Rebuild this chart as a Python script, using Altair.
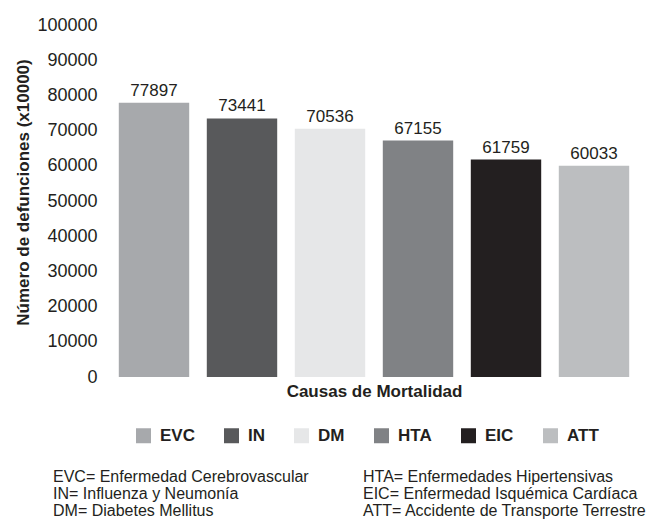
import altair as alt
import pandas as pd

causas = ["EVC", "IN", "DM", "HTA", "EIC", "ATT"]
defunciones = [77897, 73441, 70536, 67155, 61759, 60033]
colores = ["#a7a9ac", "#58595b", "#e6e7e8", "#808285", "#231f20", "#bcbec0"]
y_ticks = list(range(0, 100001, 10000))
notas_izq = ["EVC= Enfermedad Cerebrovascular", "IN= Influenza y Neumonía", "DM= Diabetes Mellitus"]
notas_der = ["HTA= Enfermedades Hipertensivas", "EIC= Enfermedad Isquémica Cardíaca",
             "ATT= Accidente de Transporte Terrestre"]

df = pd.DataFrame({"causa": causas, "valor": defunciones})
FONT = "Liberation Sans"
DARK = "#231f20"

x = alt.X("causa:N", sort=causas,
          scale=alt.Scale(paddingInner=0.2, paddingOuter=0.1),
          axis=alt.Axis(title="Causas de Mortalidad", labels=False, ticks=False, domain=False,
                        titleFont=FONT, titleFontSize=17, titleFontWeight="bold", titleColor=DARK,
                        titleY=14, titleBaseline="middle"))
y = alt.Y("valor:Q", scale=alt.Scale(domain=[0, 100000], nice=False),
          axis=alt.Axis(values=y_ticks, tickCount=11, format="d",
                        title="Número de defunciones (x10000)",
                        grid=False, ticks=False, domain=False, labelPadding=13, labelOverlap=False,
                        labelFont=FONT, labelFontSize=18, labelColor=DARK,
                        titleFont=FONT, titleFontSize=17, titleFontWeight="bold", titleColor=DARK,
                        titleX=-87, titleY=167, titleAngle=270, titleAlign="center",
                        titleBaseline="middle"))

bars = alt.Chart(df).mark_bar().encode(
    x=x, y=y,
    color=alt.Color("causa:N", sort=causas,
                    scale=alt.Scale(domain=causas, range=colores),
                    legend=alt.Legend(title=None, orient="none", legendX=25, legendY=402,
                                      direction="horizontal", symbolType="square",
                                      symbolSize=225, symbolStrokeWidth=0, symbolOpacity=1,
                                      labelFont=FONT, labelFontSize=17, labelFontWeight="bold",
                                      labelColor=DARK, labelOffset=8, columnPadding=28))
)

labels = alt.Chart(df).mark_text(dy=-12, fontSize=17, font=FONT, color=DARK).encode(
    x=x, y=y, text=alt.Text("valor:Q", format="d")
)

note_style = dict(align="left", baseline="top", lineBreak="\n", lineHeight=17,
                  fontSize=16, font=FONT, color=DARK)
left_notes = alt.Chart(pd.DataFrame({"t": ["\n".join(notas_izq)]})).mark_text(**note_style).encode(
    x=alt.value(-57), y=alt.value(444), text="t:N")
right_notes = alt.Chart(pd.DataFrame({"t": ["\n".join(notas_der)]})).mark_text(**note_style).encode(
    x=alt.value(253), y=alt.value(444), text="t:N")

chart = alt.layer(bars, labels, left_notes, right_notes).properties(
    width=528, height=352,
    autosize=alt.AutoSizeParams(type="none"),
    padding={"left": 110, "top": 25, "right": 14, "bottom": 148},
    background="white",
).configure_view(stroke=None)

chart.save("out.html", embed_options={"renderer": "svg", "actions": False})
